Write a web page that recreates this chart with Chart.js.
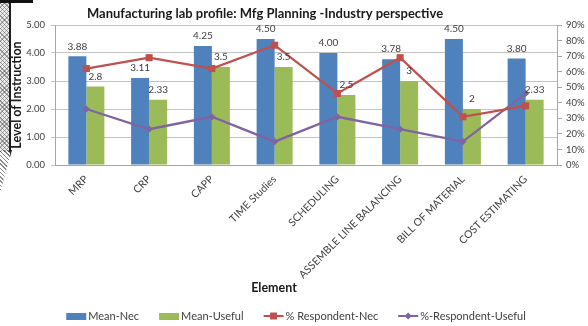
<!DOCTYPE html>
<html>
<head>
<meta charset="utf-8">
<title>Manufacturing lab profile</title>
<script src="https://cdn.jsdelivr.net/npm/chart.js@4.4.1/dist/chart.umd.min.js"></script>
<style>
  html, body { margin: 0; padding: 0; background: #fff; }
  #wrap { position: relative; width: 588px; height: 326px; overflow: hidden; }
  #chart { display: block; }
  /* scanned binding edge on the left */
  .edge {
    position: absolute; left: 0; top: 0; width: 9px; height: 152px;
    border-right: 2px solid #1e1e1e; pointer-events: none;
    background-color: #ececec;
    background-image:
      repeating-linear-gradient(45deg, rgba(90,90,90,.55) 0 1px, transparent 1px 3px),
      repeating-linear-gradient(-45deg, rgba(90,90,90,.45) 0 1px, transparent 1px 3px);
  }
  .edge-top { position: absolute; left: 0; top: 0; width: 33px; height: 3px; background: #111; }
  .edge-foot {
    position: absolute; left: -4px; top: 150px; width: 14px; height: 40px; pointer-events: none;
    background-image:
      repeating-linear-gradient(45deg, rgba(60,60,60,.6) 0 1px, transparent 1px 3px);
    clip-path: polygon(0 0, 100% 0, 30% 100%, 0 100%);
    border-right: 2px solid #1e1e1e;
  }
</style>
</head>
<body>
<div id="wrap">
  <canvas id="chart" width="588" height="326"></canvas>
  <div class="edge"></div>
  <div class="edge-top"></div>
  <div class="edge-foot"></div>
</div>
<script>
const categories = ['MRP', 'CRP', 'CAPP', 'TIME Studies', 'SCHEDULING', 'ASSEMBLE LINE BALANCING', 'BILL OF MATERIAL', 'COST ESTIMATING'];
const meanNec = [3.88, 3.11, 4.25, 4.50, 4.00, 3.78, 4.50, 3.80];
const meanUseful = [2.8, 2.33, 3.5, 3.5, 2.5, 3, 2, 2.33];
const pctRespondentNec = [62, 69, 62, 77, 46, 69, 31, 38];
const pctRespondentUseful = [36, 23, 31, 15, 31, 23, 15, 46];

const levelMax = 5;
const levelStep = 0.5;
const pctMax = 90;
const pctStep = 10;

const BLUE = '#4F81BD';
const GREEN = '#9BBB59';
const RED = '#C0504D';
const PURPLE = '#8064A2';
const TEXT = '#404040';
const FONT = 'Lato, "Liberation Sans", sans-serif';

// how each bar series prints its value
const valueFormat = [v => v.toFixed(2), v => String(v)];

const decorations = {
  id: 'decorations',
  afterDatasetsDraw(chart) {
    const { ctx } = chart;
    ctx.save();
    ctx.font = `10px ${FONT}`;
    ctx.fillStyle = TEXT;
    ctx.textAlign = 'center';
    ctx.textBaseline = 'middle';
    [0, 1].forEach(di => {
      const ds = chart.data.datasets[di];
      chart.getDatasetMeta(di).data.forEach((bar, i) => {
        ctx.fillText(valueFormat[di](ds.data[i]), bar.x, bar.y - 10);
      });
    });
    ctx.restore();
  },
  afterDraw(chart) {
    const { ctx } = chart;
    ctx.save();
    ctx.fillStyle = '#1a1a1a';
    ctx.textAlign = 'center';
    ctx.textBaseline = 'middle';

    ctx.font = `bold 13px ${FONT}`;
    ctx.fillText('Manufacturing lab profile: Mfg Planning -Industry perspective', 265, 14);

    ctx.font = `bold 12.5px ${FONT}`;
    ctx.fillText('Element', 274, 288);

    ctx.save();
    ctx.translate(17, 95);
    ctx.rotate(-Math.PI / 2);
    ctx.fillText('Level of Instruction', 0, 0);
    ctx.restore();

    // legend: swatch or line+marker, then the label
    ctx.font = `11px ${FONT}`;
    ctx.textAlign = 'left';
    const items = chart.data.datasets.map(ds => ({
      text: ds.label,
      line: ds.type === 'line',
      color: ds.type === 'line' ? ds.borderColor : ds.backgroundColor,
      marker: ds.pointStyle,
    }));
    const sw = 20, gap = 2, spacing = 20;
    const widths = items.map(it => sw + gap + ctx.measureText(it.text).width);
    const total = widths.reduce((s, w) => s + w, 0) + spacing * (items.length - 1);
    let x = 296 - total / 2;
    const y = 316;
    items.forEach((it, i) => {
      if (!it.line) {
        ctx.fillStyle = it.color;
        ctx.fillRect(x, y - 3, sw, 7);
      } else {
        ctx.strokeStyle = it.color;
        ctx.lineWidth = 2;
        ctx.beginPath();
        ctx.moveTo(x, y);
        ctx.lineTo(x + sw, y);
        ctx.stroke();
        ctx.fillStyle = it.color;
        ctx.beginPath();
        if (it.marker === 'rect') {
          ctx.rect(x + sw / 2 - 3.5, y - 3.5, 7, 7);
        } else {
          ctx.moveTo(x + sw / 2, y - 3.5);
          ctx.lineTo(x + sw / 2 + 3.5, y);
          ctx.lineTo(x + sw / 2, y + 3.5);
          ctx.lineTo(x + sw / 2 - 3.5, y);
          ctx.closePath();
        }
        ctx.fill();
      }
      ctx.fillStyle = TEXT;
      ctx.fillText(it.text, x + sw + gap, y + 0.5);
      x += widths[i] + spacing;
    });
    ctx.restore();
  },
};

new Chart(document.getElementById('chart'), {
  type: 'bar',
  data: {
    labels: categories,
    datasets: [
      { label: 'Mean-Nec', data: meanNec, backgroundColor: BLUE, yAxisID: 'y', order: 1,
        categoryPercentage: 0.574, barPercentage: 1 },
      { label: 'Mean-Useful', data: meanUseful, backgroundColor: GREEN, yAxisID: 'y', order: 1,
        categoryPercentage: 0.574, barPercentage: 1 },
      { type: 'line', label: '% Respondent-Nec', data: pctRespondentNec, yAxisID: 'y1', order: 0,
        borderColor: RED, backgroundColor: RED, borderWidth: 2.25, pointStyle: 'rect',
        pointRadius: 5, pointBorderWidth: 0, tension: 0 },
      { type: 'line', label: '%-Respondent-Useful', data: pctRespondentUseful, yAxisID: 'y1', order: 0,
        borderColor: PURPLE, backgroundColor: PURPLE, borderWidth: 2.25, pointStyle: 'rectRot',
        pointRadius: 3.6, pointBorderWidth: 0, tension: 0 },
    ],
  },
  options: {
    responsive: false,
    animation: false,
    layout: { padding: { top: 25, left: 0, right: 0, bottom: 0 } },
    plugins: {
      legend: { display: false },
      title: { display: false },
      tooltip: { enabled: false },
    },
    scales: {
      x: {
        grid: { display: false, drawTicks: false },
        border: { display: true, color: '#a6a6a6' },
        ticks: { color: TEXT, font: { family: FONT, size: 10.5 }, minRotation: 45, maxRotation: 45,
          autoSkip: false, padding: 8 },
        afterFit: s => { s.height = 161; },
      },
      y: {
        position: 'left',
        min: 0, max: levelMax,
        grid: { color: '#c4c4c4', tickLength: 4 },
        border: { display: true, color: '#a6a6a6' },
        ticks: { stepSize: levelStep, color: TEXT, font: { family: FONT, size: 9.5 }, padding: 6,
          callback: v => v.toFixed(2) },
        afterFit: s => { s.width = 55; },
      },
      y1: {
        position: 'right',
        min: 0, max: pctMax,
        grid: { drawOnChartArea: false, color: '#a6a6a6', tickLength: 5 },
        border: { display: true, color: '#a6a6a6' },
        ticks: { stepSize: pctStep, color: TEXT, font: { family: FONT, size: 9.5 }, padding: 4,
          callback: v => `${v}%` },
        afterFit: s => { s.width = 31; },
      },
    },
  },
  plugins: [decorations],
});
</script>
</body>
</html>
